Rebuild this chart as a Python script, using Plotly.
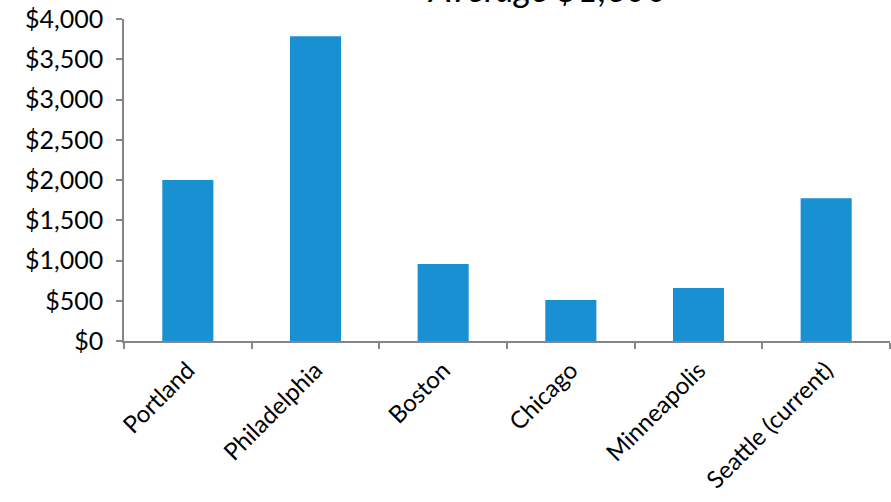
import plotly.graph_objects as go

categories = ["Portland", "Philadelphia", "Boston", "Chicago", "Minneapolis", "Seattle (current)"]
values = [2000, 3785, 957, 508, 658, 1772]
y_ticks = [0, 500, 1000, 1500, 2000, 2500, 3000, 3500, 4000]
y_labels = ["$0", "$500", "$1,000", "$1,500", "$2,000", "$2,500", "$3,000", "$3,500", "$4,000"]
title_text = "Average $1,600"

fig = go.Figure(go.Bar(x=categories, y=values, marker=dict(color="#1990D2", line=dict(width=0))))

fig.update_layout(
    width=891, height=502,
    margin=dict(l=124, r=1, t=19, b=161, autoexpand=False),
    paper_bgcolor="white", plot_bgcolor="white",
    bargap=0.6, showlegend=False,
    font=dict(family="Lato, Open Sans, sans-serif", size=24, color="#000000"),
)
fig.update_xaxes(
    automargin=False,
    showgrid=False, showline=True, linecolor="#868686", linewidth=1.5,
    ticks="outside", tickson="boundaries", ticklen=6, tickcolor="#868686", tickwidth=1.5,
    tickangle=-45, tickfont=dict(size=24), ticklabelstandoff=4, ticklabeloverflow="allow",
)
fig.update_yaxes(
    automargin=False,
    range=[0, 4000], showgrid=False, zeroline=False, showline=True, linecolor="#868686", linewidth=1.5,
    ticks="outside", ticklen=6, tickcolor="#868686", tickwidth=1.5, ticklabelstandoff=8,
    tickvals=y_ticks, ticktext=y_labels, tickfont=dict(size=25), ticklabeloverflow="allow",
)
fig.add_annotation(
    text="<i>" + title_text + "</i>", xref="paper", yref="paper", x=0.553, y=1.022,
    xanchor="center", yanchor="bottom", showarrow=False,
    font=dict(size=36, family="Lato, Open Sans, sans-serif", color="#000000", style="italic"),
)
fig.write_html("out.html", config={"displayModeBar": False},
               post_script="document.body.style.margin='0';")
